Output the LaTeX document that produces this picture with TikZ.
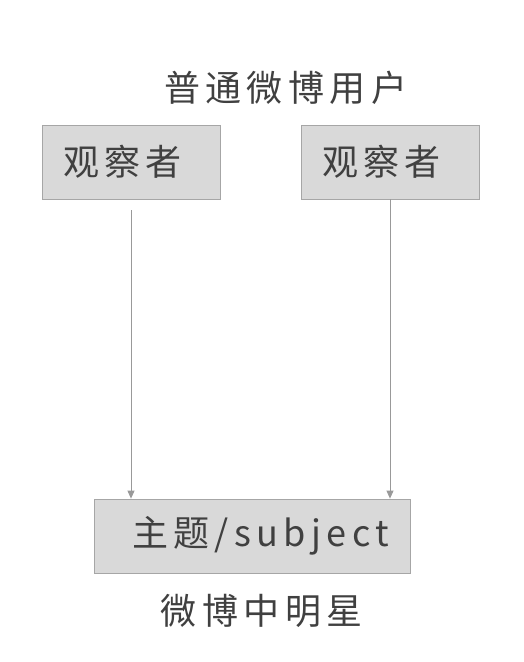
\documentclass[tikz,border=0pt]{standalone}
\usepackage{fontspec}
\newfontfamily\cjk[LetterSpace=15]{Noto Sans CJK SC}
\usetikzlibrary{arrows.meta}
\definecolor{boxfill}{HTML}{D9D9D9}
\definecolor{boxline}{HTML}{A6A6A6}
\definecolor{arrowc}{HTML}{999999}
\definecolor{txt}{HTML}{404040}
\tikzset{
  lbl/.style={font=\cjk\fontsize{36pt}{42pt}\selectfont, text=txt, inner sep=0pt},
  obox/.style={draw=boxline, fill=boxfill, line width=0.8pt, font=\cjk\fontsize{36pt}{42pt}\selectfont, text=txt,
    minimum height=74pt, inner ysep=0pt, align=left},
  arr/.style={draw=arrowc, line width=0.8pt, -{Triangle[length=8pt,width=7pt]}}
}
\begin{document}
\begin{tikzpicture}[x=1pt,y=-1pt]
\useasboundingbox (0,0) rectangle (523,662);
\node[lbl] (title) at (285.7,88) {普通微博用户};
\node[obox, inner xsep=21pt, text width=136pt] (o1) at (131,162) {观察者};
\node[obox, inner xsep=21pt, text width=136pt] (o2) at (390,162) {观察者};
\node[obox, inner xsep=38pt, text width=240pt] (s) at (252,536) {主题/subject};
\node[lbl] (star) at (261.7,611) {微博中明星};
\draw[arr] ([yshift=-11pt]o1.south) -- (o1.south |- s.north);
\draw[arr] (o2.south) -- (o2.south |- s.north);
\end{tikzpicture}
\end{document}
